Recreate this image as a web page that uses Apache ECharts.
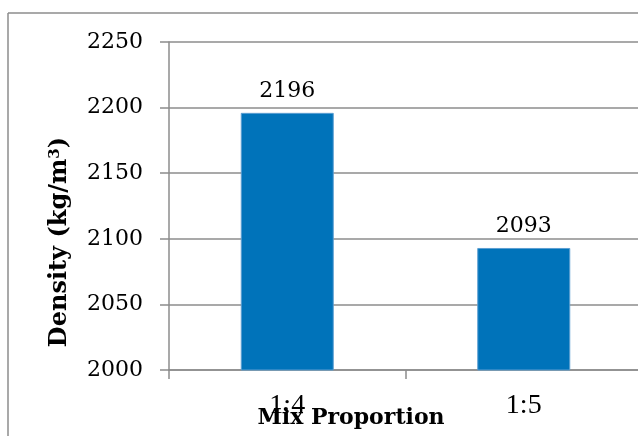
<!DOCTYPE html>
<html><head><meta charset="utf-8">
<script src="https://cdn.jsdelivr.net/npm/echarts@6/dist/echarts.min.js"></script>
<style>html,body{margin:0;padding:0;background:#fff}#c{width:638px;height:436px}</style>
</head><body><div id="c"></div>
<script>
var categories = ['1:4', '1:5'];
var densityValues = [2196, 2093];
var yTicks = [2000, 2050, 2100, 2150, 2200, 2250];

var chart = echarts.init(document.getElementById('c'), null, {renderer: 'canvas'});
var gridColor = '#8c8c8c';
chart.setOption({
  animation: false,
  backgroundColor: '#ffffff',
  grid: {left: 169, top: 42, width: 473, height: 328, outerBoundsMode: 'none', containLabel: false},
  xAxis: {
    type: 'category',
    data: categories,
    splitLine: {show: false},
    axisLine: {lineStyle: {color: gridColor, width: 1.5}},
    axisTick: {show: true, length: 9, lineStyle: {color: gridColor, width: 1.5}},
    axisLabel: {margin: 22, color: '#000', fontFamily: 'Liberation Serif', fontSize: 28}
  },
  yAxis: {
    type: 'value',
    min: yTicks[0], max: yTicks[yTicks.length - 1], interval: 50,
    axisLine: {show: true, lineStyle: {color: gridColor, width: 1.5}},
    axisTick: {show: true, length: 9, lineStyle: {color: gridColor, width: 1.5}},
    splitLine: {lineStyle: {color: gridColor, width: 1.5}},
    axisLabel: {margin: 26, color: '#000', fontFamily: 'DejaVu Serif', fontSize: 22,
      formatter: function (v) { return String(v); }}
  },
  series: [{
    type: 'bar',
    data: densityValues,
    barWidth: 93,
    itemStyle: {color: '#0073ba', borderColor: '#5c9fd2', borderWidth: 1},
    label: {show: true, position: 'top', distance: 11, color: '#000', fontFamily: 'DejaVu Serif', fontSize: 22,
      formatter: function (p) { return String(p.value); }}
  }],
  graphic: [
    {type: 'line', shape: {x1: 8, y1: 13, x2: 8, y2: 436}, style: {stroke: '#8c8c8c', lineWidth: 1.5}, z: -1},
    {type: 'line', shape: {x1: 8, y1: 13, x2: 638, y2: 13}, style: {stroke: '#8c8c8c', lineWidth: 1.5}, z: -1},
    {type: 'text', x: 351, y: 429, style: {text: 'Mix Proportion', fill: '#000', font: 'bold 22px "DejaVu Serif"', textAlign: 'center', textVerticalAlign: 'bottom'}},
    {type: 'text', x: 60, y: 242, rotation: Math.PI / 2,
      style: {
        text: '{b|Density (kg/m}{s|3}{b|)}',
        textAlign: 'center', textVerticalAlign: 'middle',
        rich: {
          b: {fontFamily: 'DejaVu Serif', fontWeight: 'bold', fontSize: 24, fill: '#000', color: '#000'},
          s: {fontFamily: 'DejaVu Serif', fontWeight: 'bold', fontSize: 15, fill: '#000', color: '#000', verticalAlign: 'top', padding: [0, 0, 10, 0]}
        }
      }}
  ]
});
</script></body></html>
